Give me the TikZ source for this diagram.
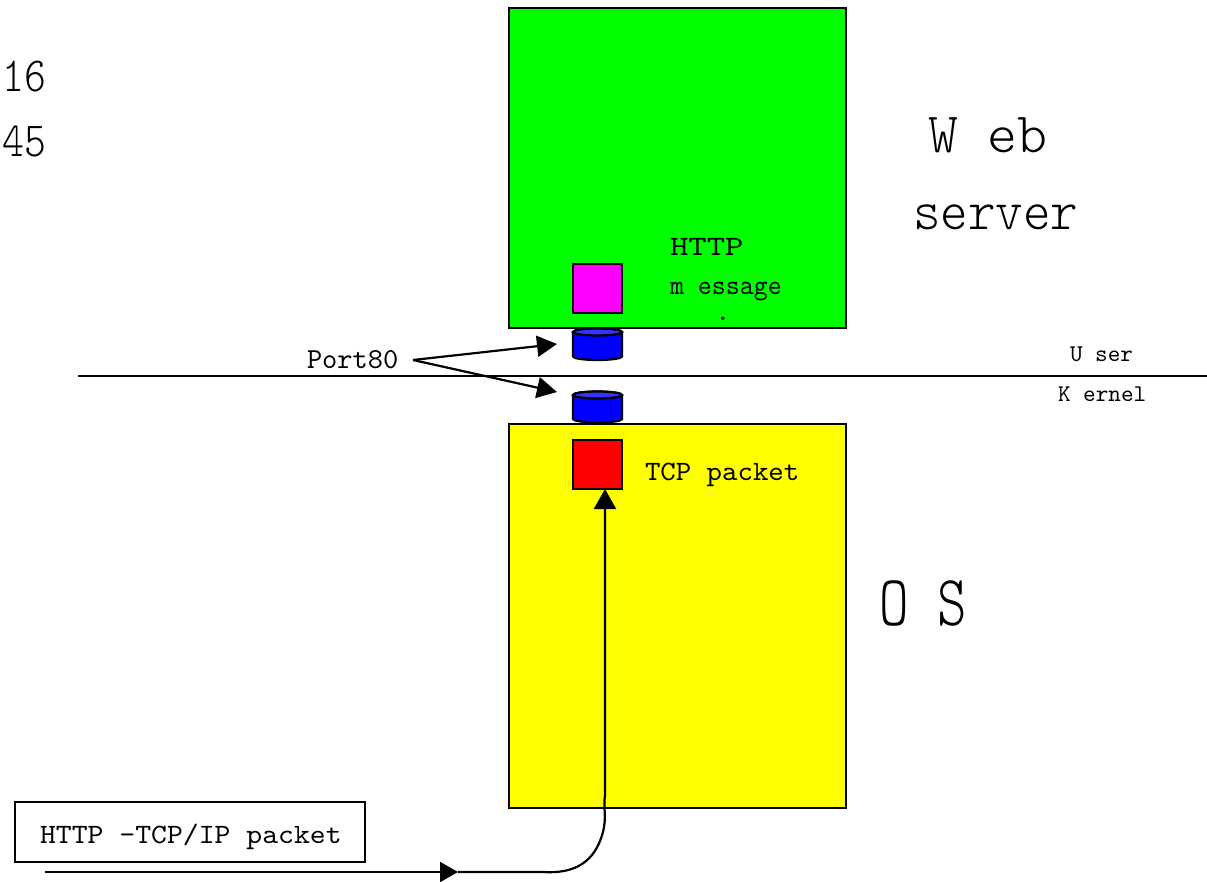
\documentclass[tikz,border=0pt]{standalone}
\usepackage{fontspec}
\usepackage{graphicx}
\usetikzlibrary{arrows.meta}
\newfontfamily\cour[Extension=.otf]{lmmono10-regular}
\newfontfamily\courl[Extension=.otf]{lmmonolt10-regular}
\definecolor{wgreen}{RGB}{0,255,0}
\definecolor{wyellow}{RGB}{255,255,0}
\definecolor{wmagenta}{RGB}{255,0,255}
\definecolor{wred}{RGB}{255,0,0}
\definecolor{wblue}{RGB}{0,0,255}
\definecolor{wblue2}{RGB}{51,51,255}
\newcommand\tx[3]{\fontsize{#1}{#1}\selectfont\cour\scalebox{#2}[1]{#3}}
\newcommand\txl[3]{\fontsize{#1}{#1}\selectfont\courl\scalebox{#2}[1]{#3}}
\newcommand\cyl[4]{% x-centre, top y, bottom y, y radius
  \filldraw[fill=wblue, line width=2.2pt] (#1-24.5,#2) -- (#1-24.5,#3)
    arc[start angle=180, end angle=0, x radius=24.5, y radius=#4] -- (#1+24.5,#2)
    arc[start angle=0, end angle=-180, x radius=24.5, y radius=#4] -- cycle;
  \filldraw[fill=wblue2, line width=2.2pt] (#1,#2) ellipse[x radius=24.5, y radius=#4];
}
\begin{document}
\begin{tikzpicture}[x=1pt,y=-1pt,
  box/.style={draw=black, line width=2.2pt, inner sep=0pt, outer sep=0pt, anchor=north west},
  lbl/.style={inner sep=0pt, outer sep=0pt, anchor=base west},
  arr/.style={line width=2.2pt, -{Triangle[length=20pt,width=21pt]}},
]
\useasboundingbox (0,0) rectangle (1207,882);
% boxes
\node[box, fill=wgreen, minimum width=337pt, minimum height=320pt] (web) at (509,8) {};
\node[box, fill=wyellow, minimum width=337pt, minimum height=384pt] (os) at (509,424) {};
\node[box, fill=wmagenta, minimum width=49pt, minimum height=49pt] (msg) at (573,264) {};
\node[box, fill=wred, minimum width=49pt, minimum height=49pt] (tcp) at (573,440) {};
% ports
\cyl{597.5}{332}{356.5}{3.5}
\cyl{597.5}{395}{419}{3.5}
% user/kernel line
\coordinate (l0) at (78,376);
\coordinate (l1) at (1207,376);
\draw[line width=2pt] (l0) -- (l1);
% labels
\node[lbl, anchor=base east] (n16) at (46,92) {\txl{49}{0.85}{16}};
\node[lbl, anchor=base east] (n45) at (46,157) {\txl{49}{0.85}{45}};
\node[lbl] (webl) at (928,153) {\txl{57}{1.0}{W eb}};
\node[lbl] (serverl) at (913,230) {\txl{57}{0.92}{server}};
\node[lbl] (httpl) at (670,256) {\tx{28}{1.25}{HTTP}};
\node[lbl] (messl) at (670,295) {\tx{28}{0.95}{m essage}};
\node[lbl, anchor=base] (dot) at (723,321) {\tx{28}{1}{.}};
\node[lbl] (port) at (307,369) {\tx{29}{1.0}{Port80}};
\node[lbl] (userl) at (1070,362) {\tx{24}{1.0}{U ser}};
\node[lbl] (kernl) at (1058,401) {\tx{24}{1.0}{K ernel}};
\node[lbl] (tcpl) at (645,480) {\tx{28}{1.05}{TCP packet}};
\node[lbl] (osl) at (879,625) {\txl{72}{0.78}{O S}};
\node[draw=black, line width=1.8pt, inner sep=0pt, outer sep=0pt, anchor=north west,
      minimum width=350pt, minimum height=60pt] (pkt) at (15,802) {};
\node[lbl] (pktl) at (40,843) {\tx{28}{1.08}{HTTP -TCP/IP packet}};
% port arrows
\coordinate (p0) at (413,360);
\coordinate (p1) at (557,344);
\coordinate (p2) at (557,392);
\draw[arr] (p0) -- (p1);
\draw[arr] (p0) -- (p2);
% incoming packet path
\coordinate (in0) at (45,872);
\coordinate (inm) at (458,872);
\draw[line width=2.2pt, -{Triangle[length=18pt,width=20pt]}] (in0) -- (inm);
\draw[line width=2.2pt, -{Triangle[length=20pt,width=22pt]}] (inm) -- (543,872)
  .. controls (575,874) and (595,862) .. (603,832)
  .. controls (607,815) and (603,810) .. (605,795) -- ([xshift=7.5pt]tcp.south);
\end{tikzpicture}
\end{document}
